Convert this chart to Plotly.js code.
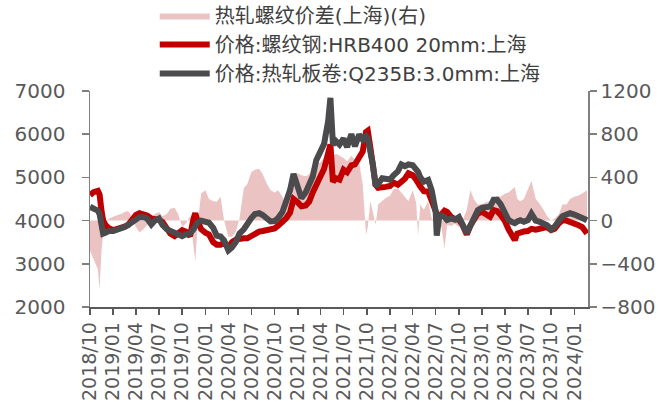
<!DOCTYPE html>
<html>
<head>
<meta charset="utf-8">
<script src="https://cdn.plot.ly/plotly-3.0.1.min.js"></script>
<style>html,body{margin:0;padding:0;background:#fff;}#chart{width:662px;height:405px;}</style>
</head>
<body>
<div id="chart"></div>
<script>
const dates = [
'2018-10-01','2018-10-15','2018-11-01','2018-11-08','2018-11-15','2018-11-22','2018-12-01','2018-12-15',
'2019-01-01','2019-01-15','2019-02-01','2019-02-15','2019-03-01','2019-03-15','2019-04-01','2019-04-15',
'2019-05-01','2019-05-15','2019-06-01','2019-06-15','2019-07-01','2019-07-15','2019-08-01','2019-08-15',
'2019-09-01','2019-09-15','2019-10-01','2019-10-15','2019-11-01','2019-11-15','2019-11-22','2019-12-01',
'2019-12-15','2020-01-01','2020-01-15','2020-02-01','2020-02-15','2020-03-01','2020-03-15','2020-04-01',
'2020-04-15','2020-05-01','2020-05-15','2020-06-01','2020-06-15','2020-07-01','2020-07-15','2020-08-01',
'2020-08-15','2020-09-01','2020-09-15','2020-10-01','2020-10-15','2020-11-01','2020-11-15','2020-12-01',
'2020-12-15','2021-01-01','2021-01-15','2021-02-01','2021-02-15','2021-03-01','2021-03-15','2021-04-01',
'2021-04-15','2021-05-01','2021-05-10','2021-05-20','2021-06-01','2021-06-15','2021-07-01','2021-07-15',
'2021-08-01','2021-08-15','2021-09-01','2021-09-15','2021-09-28','2021-10-05','2021-10-15','2021-10-25',
'2021-11-05','2021-11-15','2021-12-01','2021-12-15','2022-01-01','2022-01-15','2022-02-01','2022-02-15',
'2022-03-01','2022-03-15','2022-04-01','2022-04-15','2022-04-22','2022-05-01','2022-05-15','2022-06-01',
'2022-06-15','2022-07-01','2022-07-05','2022-07-15','2022-07-23','2022-08-05','2022-08-15','2022-09-01',
'2022-09-15','2022-10-01','2022-10-15','2022-11-01','2022-11-15','2022-12-01','2022-12-15','2023-01-01',
'2023-01-15','2023-02-01','2023-02-15','2023-03-01','2023-03-15','2023-04-01','2023-04-15','2023-05-01',
'2023-05-10','2023-05-20','2023-06-01','2023-06-15','2023-07-01','2023-07-15','2023-08-01','2023-08-15',
'2023-09-01','2023-09-15','2023-10-01','2023-10-15','2023-11-01','2023-11-15','2023-12-01','2023-12-15',
'2024-01-01','2024-01-15','2024-02-01','2024-02-20'
];

const rebarPrice = [
4590,4660,4690,4600,4250,4000,3900,3820,
3780,3800,3820,3860,3900,4000,4130,4170,
4160,4120,4050,4050,4020,3970,3800,3700,
3640,3720,3780,3745,3640,4050,4170,3990,
3800,3720,3680,3500,3440,3440,3480,3380,
3500,3560,3590,3590,3590,3650,3700,3745,
3760,3780,3800,3820,3880,3960,4050,4180,
4500,4420,4330,4350,4440,4650,4800,5030,
5200,5560,5760,4900,4980,4950,5180,5120,
5280,5300,5450,5600,6050,6080,5700,5280,
4830,4760,4760,4780,4800,4880,4830,4900,
4970,5095,5050,4940,4850,4790,4680,4670,
4460,4200,4150,4090,4150,4230,4200,4080,
4040,4020,3900,3680,3880,4060,4170,4200,
4150,4090,4245,4220,4130,3990,3800,3600,
3550,3700,3740,3750,3760,3810,3790,3800,
3830,3850,3780,3810,3940,4010,4000,3975,
3950,3900,3850,3700
];

const hrcPrice = [
4320,4290,4230,4150,3950,3700,3720,3760,
3760,3780,3820,3850,3900,3960,4020,4080,
4080,4050,3910,4000,4050,3900,3800,3760,
3745,3700,3640,3680,3700,3800,3900,3960,
4000,3990,3950,3830,3650,3630,3540,3310,
3380,3510,3700,3800,3950,4060,4150,4170,
4130,4030,3980,3990,4060,4200,4400,4700,
5080,4820,4520,4650,4830,5020,5400,5650,
5780,6300,6840,5760,5840,5760,5900,5700,
6000,5720,5990,5870,5950,5900,5650,5300,
4800,4850,4980,4980,4950,5050,5140,5300,
5260,5300,5280,5180,5130,5000,4900,4940,
4700,4200,3650,4100,4120,4080,4015,4050,
4020,4080,3900,3710,3880,4090,4240,4300,
4320,4320,4480,4480,4380,4150,4020,3960,
3940,3980,4010,3975,4010,4160,4000,3975,
3940,3890,3800,3860,4000,4100,4140,4170,
4140,4110,4080,4010
];

const hrcRebarSpread = [
-280,-350,-450,-640,-300,-120,-50,20,
40,50,60,80,90,40,-60,-110,
-80,-40,30,60,80,40,60,110,
120,60,-60,-30,40,-250,-380,-40,
250,280,200,180,175,220,0,-150,
-150,-100,20,300,340,450,470,480,
430,340,280,260,280,220,140,400,
360,440,420,410,430,500,520,540,
580,610,630,600,620,600,580,550,
600,560,540,330,-130,-60,180,80,
-40,150,180,210,230,290,300,260,
220,180,280,160,-140,150,100,180,
20,0,-40,-30,-50,-260,-40,-50,
-30,-60,0,100,280,190,150,150,
170,180,200,230,220,250,260,290,
310,200,180,200,300,370,200,160,
100,40,0,20,60,150,150,200,
220,230,250,280
];

const traces = [
  {
    x: dates, y: hrcRebarSpread, type: 'scatter', mode: 'lines',
    name: '热轧螺纹价差(上海)(右)', yaxis: 'y',
    fill: 'tozeroy', fillcolor: '#ECC3C3',
    line: {width: 0, color: '#ECC3C3'}
  },
  {
    x: dates, y: rebarPrice, type: 'scatter', mode: 'lines',
    name: '价格:螺纹钢:HRB400 20mm:上海', yaxis: 'y2',
    line: {width: 6, color: '#C00000'}
  },
  {
    x: dates, y: hrcPrice, type: 'scatter', mode: 'lines',
    name: '价格:热轧板卷:Q235B:3.0mm:上海', yaxis: 'y2',
    line: {width: 6, color: '#4B4B4D'}
  }
];

const fontFam = '"DejaVu Sans", "Noto Sans CJK SC", sans-serif';

const layout = {
  width: 662, height: 405,
  margin: {l: 90, r: 74, t: 91, b: 98, pad: 0, autoexpand: false},
  paper_bgcolor: '#ffffff', plot_bgcolor: '#ffffff',
  font: {family: fontFam, size: 20, color: '#595959'},
  showlegend: true,
  legend: {
    x: 0.13, xanchor: 'left', y: 1.44, yanchor: 'top',
    font: {family: fontFam, size: 20, color: '#404040'},
    itemwidth: 50, tracegroupgap: 0, bgcolor: 'rgba(0,0,0,0)',
    traceorder: 'normal'
  },
  xaxis: {
    type: 'date',
    range: ['2018-10-01', '2024-02-24'],
    tick0: '2018-10-01', dtick: 'M3', tickformat: '%Y/%m',
    tickangle: -90,
    showgrid: false, zeroline: false,
    showline: true, linecolor: '#595959', linewidth: 1.5,
    ticks: 'outside', ticklen: 6, tickcolor: '#595959', tickwidth: 1.5,
    tickfont: {family: fontFam, size: 19, color: '#595959'}
  },
  yaxis: {
    range: [-800, 1200], dtick: 400,
    side: 'right',
    showgrid: false, zeroline: false,
    showline: true, linecolor: '#7F7F7F', linewidth: 1.5,
    ticks: 'outside', ticklen: 7, tickcolor: '#7F7F7F', tickwidth: 1.5,
    tickfont: {family: fontFam, size: 20, color: '#595959'}
  },
  yaxis2: {
    range: [2000, 7000], dtick: 1000,
    overlaying: 'y', side: 'left',
    showgrid: false, zeroline: false,
    showline: true, linecolor: '#7F7F7F', linewidth: 1.5,
    ticks: 'outside', ticklen: 7, tickcolor: '#7F7F7F', tickwidth: 1.5,
    ticklabelstandoff: 12,
    tickfont: {family: fontFam, size: 20, color: '#595959'}
  },
  hovermode: false
};

Plotly.newPlot('chart', traces, layout, {staticPlot: true, displayModeBar: false});
</script>
</body>
</html>
